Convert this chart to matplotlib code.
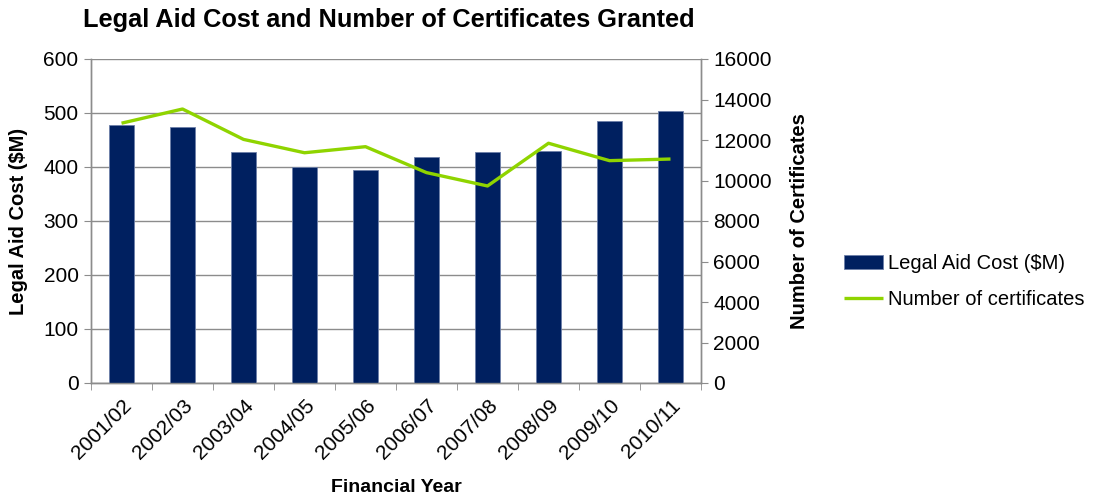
import matplotlib.pyplot as plt
import numpy as np

plt.rcParams['font.family'] = ['Liberation Sans', 'DejaVu Sans']

years = ['2001/02', '2002/03', '2003/04', '2004/05', '2005/06',
         '2006/07', '2007/08', '2008/09', '2009/10', '2010/11']
cost = [477, 475, 428, 400, 394, 418, 428, 430, 485, 504]
certificates = [12830, 13530, 12030, 11370, 11670, 10390, 9730, 11840, 10980, 11060]

fig = plt.figure(figsize=(11.02, 5.0), dpi=100)
ax = fig.add_axes([0.0826, 0.234, 0.5535, 0.648])
ax2 = ax.twinx()

x = np.arange(len(years))
bars = ax.bar(x, cost, width=0.4, color='#002060', edgecolor='#6d7fa8',
              linewidth=0.6, label='Legal Aid Cost ($M)', zorder=3)
line, = ax2.plot(x, certificates, color='#8fd400', linewidth=2.4,
                 label='Number of certificates', solid_capstyle='butt')

ax.set_xlim(-0.5, len(years) - 0.5)
ax.set_ylim(0, 600)
ax.set_yticks(range(0, 601, 100))
ax2.set_ylim(0, 16000)
ax2.set_yticks(range(0, 16001, 2000))

ax.yaxis.grid(True, color='#8c8c8c', linewidth=1.0, zorder=0)
ax.set_axisbelow(True)

# category labels in the middle, tick marks at the boundaries
ax.set_xticks(x)
ax.set_xticklabels(years, rotation=45, ha='right', rotation_mode='anchor', fontsize=15)
ax.set_xticks(np.arange(-0.5, len(years)), minor=True)
ax.tick_params(axis='x', which='major', length=0, pad=9)
ax.tick_params(axis='x', which='minor', length=5, color='#8c8c8c')
ax.tick_params(axis='y', labelsize=15, length=5, color='#8c8c8c', pad=4)
ax2.tick_params(axis='y', labelsize=15, length=5, color='#8c8c8c', pad=4)

for a in (ax, ax2):
    a.spines['top'].set_visible(False)
    for side in ('left', 'right', 'bottom'):
        a.spines[side].set_color('#8c8c8c')
        a.spines[side].set_linewidth(1.0)

ax.set_ylabel('Legal Aid Cost ($M)', fontsize=14.5, fontweight='bold')
ax.yaxis.set_label_coords(-0.103, 0.5)
ax2.set_ylabel('Number of Certificates', fontsize=14.5, fontweight='bold')
ax2.yaxis.set_label_coords(1.146, 0.5)
ax.set_xlabel('Financial Year', fontsize=14, fontweight='bold')
ax.xaxis.set_label_coords(0.5, -0.296)
fig.text(0.075, 0.96, 'Legal Aid Cost and Number of Certificates Granted',
         fontsize=18.3, fontweight='bold', ha='left', va='center')

fig.legend([bars, line], ['Legal Aid Cost ($M)', 'Number of certificates'],
           loc='center left', bbox_to_anchor=(0.749, 0.437), frameon=False,
           fontsize=14.5, handlelength=1.95, handletextpad=0.25, labelspacing=0.8)

fig.savefig('out.png', dpi=100)
